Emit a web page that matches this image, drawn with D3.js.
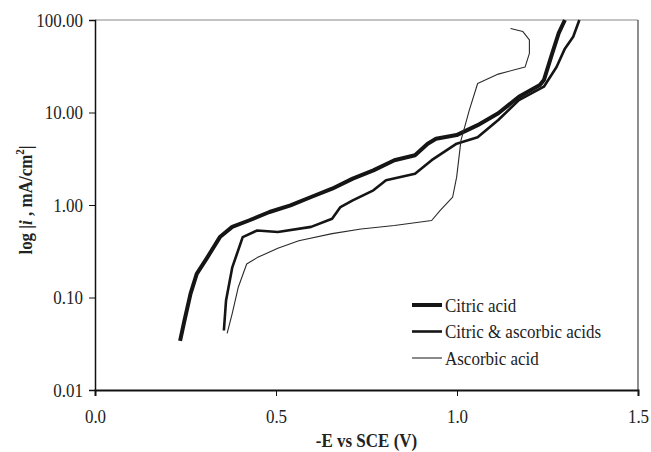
<!DOCTYPE html>
<html><head><meta charset="utf-8">
<script src="https://cdn.jsdelivr.net/npm/d3@7"></script>
<style>
body{margin:0;background:#fff;}
</style></head>
<body><svg id="c" width="651" height="452"></svg>
<script>
const seriesNames = ["Citric acid", "Citric & ascorbic acids", "Ascorbic acid"];
const xTicks = [0, 0.5, 1.0, 1.5];
const yTicks = [0.01, 0.1, 1, 10, 100];

const citricE = [0.235,0.247,0.264,0.281,0.310,0.345,0.379,0.425,0.482,0.540,0.597,0.655,0.712,0.769,0.827,0.884,0.919,0.942,0.999,1.057,1.114,1.171,1.229,1.240,1.263,1.281,1.298];
const citricI = [0.034,0.056,0.11,0.18,0.27,0.45,0.58,0.68,0.84,0.99,1.22,1.50,1.93,2.37,3.05,3.45,4.6,5.2,5.7,7.3,9.8,14.8,19.8,22.4,43.5,72,100];

const mixE = [0.356,0.362,0.379,0.408,0.448,0.505,0.597,0.655,0.678,0.712,0.769,0.804,0.884,0.930,0.999,1.057,1.114,1.171,1.240,1.275,1.298,1.321,1.338];
const mixI = [0.044,0.093,0.21,0.45,0.53,0.51,0.58,0.71,0.95,1.12,1.44,1.85,2.18,3.05,4.6,5.4,8.3,13.6,19,31,49,66,100];

const ascE = [0.365,0.379,0.396,0.419,0.448,0.505,0.563,0.655,0.735,0.827,0.930,0.953,0.988,0.999,1.011,1.034,1.057,1.114,1.188,1.200,1.200,1.182,1.148];
const ascI = [0.041,0.067,0.13,0.23,0.27,0.34,0.41,0.49,0.55,0.60,0.68,0.87,1.22,2.0,5.0,10.6,20.6,26,31,43.5,61,75,81];

const FONT = "'Liberation Serif','Times New Roman','DejaVu Serif',serif";
const SY = 1.15; // text appears vertically stretched in the reference
const svg = d3.select("#c");
const m = {l:95, r:638, t:20, b:390};
const x = d3.scaleLinear().domain([0,1.5]).range([m.l,m.r]);
const y = d3.scaleLog().domain([0.01,100]).range([m.b,m.t]);

// frame (top & right)
svg.append("line").attr("x1",m.l).attr("x2",m.r).attr("y1",m.t).attr("y2",m.t).attr("stroke","#888").attr("stroke-width",1.2);
svg.append("line").attr("x1",m.r).attr("x2",m.r).attr("y1",m.t).attr("y2",m.b).attr("stroke","#444").attr("stroke-width",1.2);

const xa = svg.append("g").attr("transform",`translate(0,${m.b})`)
  .call(d3.axisBottom(x).tickValues(xTicks).tickFormat(d3.format(".1f")).tickSize(6).tickPadding(11));
const ya = svg.append("g").attr("transform",`translate(${m.l},0)`)
  .call(d3.axisLeft(y).tickValues(yTicks).tickFormat(d3.format(".2f")).tickSize(6).tickPadding(6));
[xa,ya].forEach(g=>{
  g.attr("font-family",FONT).attr("font-size",17);
  g.selectAll("path").attr("stroke","#111").attr("stroke-width",1.5);
  g.selectAll("line").attr("stroke","#111");
  g.selectAll("text").attr("fill","#222").attr("transform",`scale(1,${SY})`);
});
xa.select("path").attr("stroke-width",2);

const line = d3.line().x(d=>x(d[0])).y(d=>y(d[1]));
const series = [
  {e:citricE, i:citricI, w:4, c:"#151515"},
  {e:mixE, i:mixI, w:2.6, c:"#151515"},
  {e:ascE, i:ascI, w:1.1, c:"#2a2a2a"}
];
series.forEach(s=>{
  const pts = s.e.map((v,k)=>[v,s.i[k]]);
  svg.append("path").datum(pts).attr("d",line).attr("fill","none")
    .attr("stroke",s.c).attr("stroke-width",s.w).attr("stroke-linejoin","round");
});

// legend
const lg = svg.append("g");
seriesNames.forEach((n,k)=>{
  const yy = 305 + k*26.5;
  lg.append("line").attr("x1",412).attr("x2",442).attr("y1",yy).attr("y2",yy)
    .attr("stroke",series[k].c).attr("stroke-width",series[k].w);
  lg.append("text").attr("transform",`translate(445,${yy+6.5}) scale(1,${SY})`)
    .attr("font-family",FONT).attr("font-size",17).attr("fill","#222").text(n);
});

// axis titles
svg.append("text").attr("transform",`translate(${(m.l+m.r)/2},447) scale(1,${SY})`)
  .attr("text-anchor","middle")
  .attr("font-family",FONT).attr("font-size",17).attr("font-weight","bold").attr("fill","#222")
  .text("-E vs SCE (V)");
const yt = svg.append("text").attr("transform",`translate(32,200) rotate(-90) scale(${1},${SY})`)
  .attr("text-anchor","middle").attr("font-family",FONT).attr("font-size",17)
  .attr("font-weight","bold").attr("fill","#222");
yt.append("tspan").text("log |");
yt.append("tspan").attr("font-style","italic").text("i");
yt.append("tspan").text(" , mA/cm");
yt.append("tspan").attr("dy",-7).attr("font-size",11).text("2");
yt.append("tspan").attr("dy",7).text("|");
</script></body></html>
